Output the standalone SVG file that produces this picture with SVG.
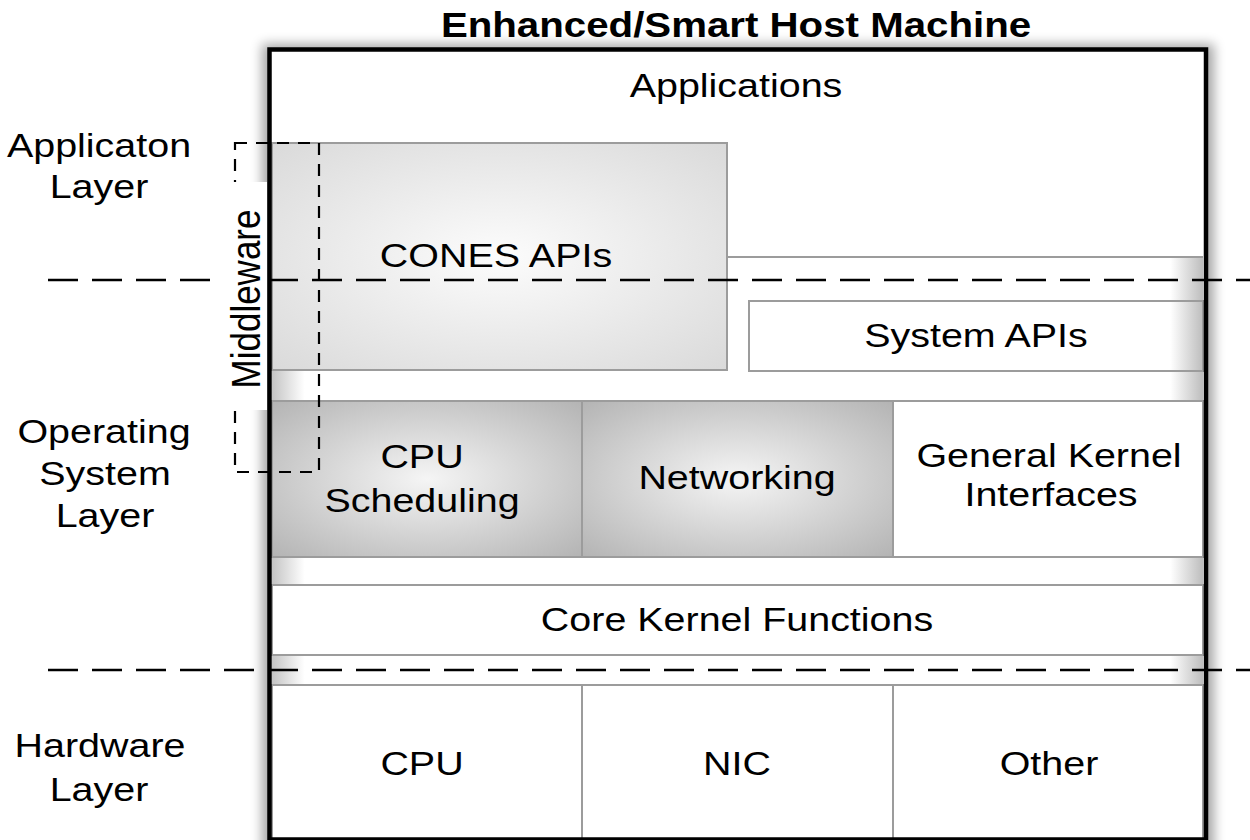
<svg xmlns="http://www.w3.org/2000/svg" width="1250" height="840" viewBox="0 0 1250 840">
<defs>
<style>
text{font-family:"Liberation Sans",Arial,sans-serif;font-size:34px;fill:#000;text-anchor:middle}
.title{font-weight:bold;font-size:35px}
.box{stroke:#9c9c9c;stroke-width:2}
.sep{fill:none;stroke:#000;stroke-width:2.5;stroke-dasharray:30 14}
.mw{fill:none;stroke:#000;stroke-width:2.2;stroke-dasharray:12 9}
</style>
<linearGradient id="pipe" gradientUnits="userSpaceOnUse" x1="272" y1="0" x2="1203" y2="0">
<stop offset="0" stop-color="#c4c4c4"/>
<stop offset="0.035" stop-color="#ffffff"/>
<stop offset="0.965" stop-color="#ffffff"/>
<stop offset="1" stop-color="#bdbdbd"/>
</linearGradient>
<radialGradient id="cones" cx="0.5" cy="0.5" r="0.72">
<stop offset="0" stop-color="#fcfcfc"/>
<stop offset="1" stop-color="#d9d9d9"/>
</radialGradient>
<radialGradient id="shade" cx="0.5" cy="0.5" r="0.72">
<stop offset="0" stop-color="#f5f5f5"/>
<stop offset="1" stop-color="#b2b2b2"/>
</radialGradient>
<filter id="shadow" x="-10%" y="-10%" width="120%" height="120%">
<feGaussianBlur stdDeviation="6"/>
</filter>
</defs>
<rect width="1250" height="840" fill="#fff"/>

<text class="title" transform="translate(736,37) scale(1.15,1)">Enhanced/Smart Host Machine</text>

<g id="host-machine">
<rect x="262" y="44" width="952" height="810" fill="#000" opacity="0.35" filter="url(#shadow)"/>
<rect x="269.5" y="49.5" width="936.5" height="790" fill="#fff"/>
</g>

<g id="applications">
<text transform="translate(736,97) scale(1.16,1)">Applications</text>
</g>

<g id="interface-strips">
<rect x="272" y="257" width="931" height="143" fill="url(#pipe)"/>
<line x1="272" y1="257" x2="1203" y2="257" stroke="#9c9c9c" stroke-width="2"/>
<rect x="272" y="557" width="931" height="28" fill="url(#pipe)"/>
<rect x="272" y="655" width="931" height="30" fill="url(#pipe)"/>
</g>

<g id="cones-apis">
<rect class="box" x="272" y="143" width="455" height="227" fill="url(#cones)"/>
<text transform="translate(496,267) scale(1.16,1)">CONES APIs</text>
</g>

<g id="system-apis">
<rect class="box" x="749" y="301" width="454" height="70" fill="none"/>
<text transform="translate(976,347) scale(1.16,1)">System APIs</text>
</g>

<g id="cpu-scheduling">
<rect class="box" x="272" y="401" width="310" height="156" fill="url(#shade)"/>
<text transform="translate(422,468) scale(1.16,1)">CPU</text>
<text transform="translate(422,512) scale(1.16,1)">Scheduling</text>
</g>

<g id="networking">
<rect class="box" x="582" y="401" width="311" height="156" fill="url(#shade)"/>
<text transform="translate(737,489) scale(1.16,1)">Networking</text>
</g>

<g id="general-kernel-interfaces">
<rect class="box" x="893" y="401" width="310" height="156" fill="#fff"/>
<text transform="translate(1049,467) scale(1.16,1)">General Kernel</text>
<text transform="translate(1051,506) scale(1.16,1)">Interfaces</text>
</g>

<g id="core-kernel-functions">
<rect class="box" x="272" y="585" width="931" height="70" fill="#fff"/>
<text transform="translate(737,631) scale(1.16,1)">Core Kernel Functions</text>
</g>

<g id="hw-cpu">
<rect class="box" x="272" y="685" width="310" height="160" fill="#fff"/>
<text transform="translate(422,775) scale(1.16,1)">CPU</text>
</g>
<g id="hw-nic">
<rect class="box" x="582" y="685" width="311" height="160" fill="#fff"/>
<text transform="translate(737,775) scale(1.16,1)">NIC</text>
</g>
<g id="hw-other">
<rect class="box" x="893" y="685" width="310" height="160" fill="#fff"/>
<text transform="translate(1049,775) scale(1.16,1)">Other</text>
</g>

<g id="host-border">
<rect x="269.5" y="49.5" width="936.5" height="790" fill="none" stroke="#000" stroke-width="4.5"/>
</g>

<g id="connectors">
<line class="sep" x1="48" y1="280" x2="1250" y2="280"/>
<line class="sep" x1="48" y1="670" x2="1250" y2="670"/>
</g>

<g id="middleware">
<rect class="mw" x="235" y="143" width="84" height="329"/>
<rect x="222" y="182" width="45" height="228" fill="#fff"/>
<text transform="translate(260,299) scale(1.16,1) rotate(-90)" style="font-size:35px">Middleware</text>
</g>

<g id="layer-labels">
<text transform="translate(99,157) scale(1.16,1)">Applicaton</text>
<text transform="translate(99,198) scale(1.16,1)">Layer</text>
<text transform="translate(104,443) scale(1.16,1)">Operating</text>
<text transform="translate(105,485) scale(1.16,1)">System</text>
<text transform="translate(105,527) scale(1.16,1)">Layer</text>
<text transform="translate(100,757) scale(1.16,1)">Hardware</text>
<text transform="translate(99,801) scale(1.16,1)">Layer</text>
</g>
</svg>
